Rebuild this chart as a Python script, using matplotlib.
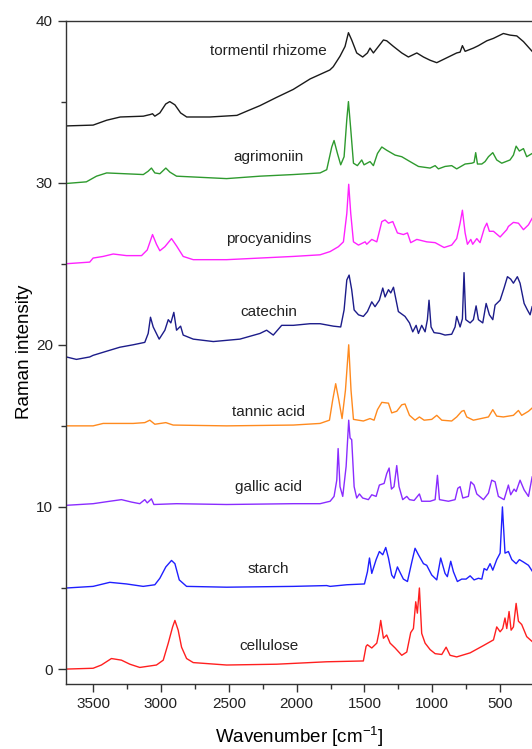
import numpy as np
import matplotlib
matplotlib.use("Agg")
import matplotlib.pyplot as plt
from matplotlib.ticker import MultipleLocator

plt.rcParams['font.family'] = ['Liberation Sans', 'DejaVu Sans']
plt.rcParams['mathtext.default'] = 'regular'

# spectra: (wavenumber cm-1, intensity incl. offset)
tormentil = [(3697, 33.5), (3500, 33.55), (3400, 33.85), (3300, 34.05), (3130, 34.1), (3080, 34.2),
             (3062, 34.25), (3045, 34.1), (3008, 34.3), (2965, 34.85), (2935, 35.0), (2897, 34.8),
             (2855, 34.3), (2810, 34.05), (2640, 34.05), (2440, 34.15), (2370, 34.4), (2270, 34.75),
             (2150, 35.25), (2025, 35.75), (1900, 36.4), (1755, 36.95), (1730, 37.15), (1680, 37.8),
             (1643, 38.4), (1618, 39.25), (1594, 38.8), (1557, 38.0), (1513, 37.75), (1478, 38.0),
             (1459, 38.3), (1434, 38.0), (1397, 38.4), (1360, 38.8), (1336, 38.75), (1286, 38.4),
             (1225, 38.0), (1176, 37.75), (1114, 38.0), (1065, 37.75), (1016, 37.55), (967, 37.4),
             (918, 37.6), (869, 37.8), (820, 38.0), (795, 38.05), (778, 38.45), (758, 38.1),
             (697, 38.3), (660, 38.45), (598, 38.75), (549, 38.9), (476, 39.2), (427, 39.1),
             (377, 39.05), (328, 38.7), (264, 38.1)]

agrimoniin = [(3697, 29.95), (3550, 30.05), (3475, 30.4), (3400, 30.6), (3130, 30.5), (3095, 30.7),
              (3070, 30.9), (3045, 30.6), (3008, 30.55), (2964, 30.9), (2934, 30.65), (2885, 30.4),
              (2760, 30.35), (2516, 30.25), (2270, 30.4), (2024, 30.5), (1827, 30.6), (1778, 30.8),
              (1741, 32.2), (1724, 32.6), (1699, 31.8), (1675, 31.1), (1650, 31.6), (1630, 33.9),
              (1618, 35.0), (1601, 33.3), (1581, 31.2), (1552, 31.05), (1520, 31.4), (1503, 31.1),
              (1459, 31.3), (1434, 31.05), (1404, 31.8), (1372, 32.2), (1336, 32.0), (1274, 31.7),
              (1225, 31.6), (1164, 31.3), (1102, 31.0), (1016, 30.9), (979, 31.05), (955, 30.85),
              (906, 31.0), (857, 31.05), (820, 30.85), (758, 31.15), (709, 31.2), (692, 31.25),
              (680, 31.85), (667, 31.15), (635, 31.15), (611, 31.3), (586, 31.6), (554, 31.85),
              (525, 31.4), (488, 31.2), (427, 31.4), (402, 31.7), (382, 32.25), (358, 31.95),
              (328, 32.1), (304, 31.6), (264, 31.8)]

procyanidins = [(3697, 25.0), (3525, 25.1), (3500, 25.35), (3426, 25.45), (3352, 25.6), (3254, 25.5),
                (3143, 25.5), (3101, 25.85), (3062, 26.8), (3033, 26.2), (3008, 25.8), (2971, 26.05),
                (2922, 26.55), (2885, 26.1), (2836, 25.45), (2762, 25.25), (2516, 25.25), (2270, 25.35),
                (2024, 25.45), (1827, 25.55), (1753, 25.75), (1692, 26.05), (1655, 26.35), (1630, 28.1),
                (1616, 29.9), (1601, 28.1), (1581, 26.35), (1544, 26.15), (1495, 26.35), (1483, 26.2),
                (1446, 26.5), (1409, 26.35), (1372, 27.6), (1348, 27.7), (1323, 27.5), (1291, 27.6),
                (1257, 26.9), (1213, 26.8), (1183, 26.9), (1159, 26.3), (1114, 26.5), (1041, 26.35),
                (979, 26.3), (913, 26.0), (857, 26.15), (820, 26.55), (795, 27.5), (778, 28.3),
                (758, 26.9), (741, 26.2), (716, 26.5), (702, 26.2), (672, 26.55), (648, 26.3),
                (616, 27.2), (598, 27.5), (579, 27.0), (549, 27.0), (500, 26.65), (451, 27.1),
                (439, 27.3), (402, 27.55), (365, 27.5), (328, 27.1), (291, 27.4), (264, 27.8)]

catechin = [(3697, 19.25), (3623, 19.1), (3525, 19.25), (3500, 19.35), (3402, 19.6), (3303, 19.85),
            (3205, 20.0), (3119, 20.15), (3094, 20.7), (3077, 21.7), (3057, 21.1), (3013, 20.35),
            (2971, 20.9), (2946, 21.55), (2927, 21.35), (2905, 22.0), (2885, 20.9), (2855, 21.15),
            (2836, 20.6), (2762, 20.35), (2614, 20.2), (2418, 20.35), (2270, 20.7), (2221, 20.9),
            (2172, 20.6), (2110, 21.2), (2024, 21.2), (1901, 21.3), (1827, 21.3), (1729, 21.15),
            (1675, 21.1), (1650, 22.15), (1630, 24.0), (1613, 24.3), (1594, 23.4), (1576, 22.15),
            (1544, 21.85), (1508, 21.75), (1478, 22.05), (1446, 22.65), (1422, 22.35), (1390, 22.75),
            (1365, 23.5), (1348, 22.95), (1323, 23.4), (1306, 23.2), (1286, 23.55), (1250, 22.05),
            (1201, 21.75), (1168, 21.35), (1144, 20.8), (1119, 21.2), (1102, 20.7), (1078, 21.2),
            (1053, 20.8), (1036, 21.55), (1024, 22.75), (1009, 21.1), (987, 20.75), (943, 20.7),
            (906, 20.6), (857, 20.65), (832, 21.1), (820, 21.75), (795, 21.1), (778, 21.6),
            (766, 24.45), (753, 21.55), (721, 21.35), (697, 21.55), (677, 22.4), (660, 21.55),
            (628, 21.35), (603, 22.55), (579, 21.85), (554, 21.55), (537, 22.45), (500, 22.75),
            (471, 23.5), (446, 24.2), (422, 24.05), (402, 23.8), (373, 24.2), (353, 23.8),
            (323, 22.55), (299, 22.15), (279, 21.85), (264, 22.35)]

tannic_acid = [(3697, 15.0), (3500, 15.0), (3426, 15.15), (3205, 15.15), (3119, 15.2), (3082, 15.35),
               (3045, 15.1), (2964, 15.2), (2910, 15.05), (2516, 15.0), (2024, 15.05), (1827, 15.15),
               (1758, 15.35), (1734, 16.6), (1712, 17.6), (1689, 16.6), (1665, 15.45), (1640, 17.2),
               (1616, 20.0), (1599, 17.2), (1581, 15.4), (1508, 15.3), (1459, 15.45), (1429, 15.35),
               (1404, 16.0), (1372, 16.45), (1323, 16.4), (1299, 15.8), (1262, 15.9), (1225, 16.3),
               (1201, 16.35), (1168, 15.65), (1127, 15.35), (1095, 15.55), (1060, 15.35), (1004, 15.4),
               (967, 15.65), (930, 15.35), (857, 15.3), (820, 15.55), (783, 15.9), (766, 15.95),
               (746, 15.55), (697, 15.35), (586, 15.55), (554, 16.0), (525, 15.6), (476, 15.55),
               (402, 15.65), (365, 15.95), (341, 15.65), (291, 15.9), (264, 16.1)]

gallic_acid = [(3697, 10.1), (3500, 10.2), (3377, 10.35), (3291, 10.45), (3217, 10.3), (3156, 10.2),
               (3119, 10.45), (3101, 10.25), (3070, 10.5), (3052, 10.15), (2885, 10.2), (2516, 10.15),
               (2024, 10.2), (1827, 10.2), (1753, 10.35), (1724, 10.65), (1704, 11.65), (1694, 13.6),
               (1680, 11.25), (1660, 10.65), (1635, 12.5), (1616, 15.35), (1606, 14.25), (1594, 14.15),
               (1576, 11.25), (1557, 10.55), (1537, 10.8), (1513, 10.55), (1471, 10.45), (1446, 10.75),
               (1414, 10.65), (1390, 11.35), (1355, 11.45), (1336, 12.05), (1318, 12.4), (1301, 11.1),
               (1282, 11.25), (1262, 12.55), (1245, 11.25), (1218, 10.45), (1188, 10.65), (1168, 10.45),
               (1134, 10.4), (1095, 10.8), (1078, 10.35), (1016, 10.35), (979, 10.45), (962, 11.95),
               (947, 10.45), (881, 10.35), (832, 10.45), (812, 11.15), (795, 11.25), (775, 10.55),
               (734, 10.65), (716, 11.55), (692, 11.35), (672, 10.8), (623, 10.45), (586, 10.85),
               (562, 11.65), (537, 11.55), (513, 10.65), (471, 10.45), (439, 11.35), (422, 10.75),
               (397, 11.1), (382, 10.95), (353, 11.65), (323, 11.05), (291, 10.65), (264, 11.85)]

starch = [(3697, 5.0), (3500, 5.1), (3377, 5.35), (3254, 5.25), (3131, 5.1), (3045, 5.2), (3008, 5.6),
          (2964, 6.3), (2922, 6.7), (2897, 6.5), (2865, 5.5), (2811, 5.1), (2516, 5.05), (2024, 5.1),
          (1778, 5.15), (1753, 5.1), (1630, 5.2), (1500, 5.25), (1478, 6.0), (1463, 6.85), (1446, 5.9),
          (1414, 6.75), (1390, 7.25), (1365, 7.05), (1343, 7.5), (1323, 6.85), (1299, 5.8), (1282, 5.6),
          (1257, 6.3), (1237, 5.95), (1213, 5.55), (1183, 5.4), (1151, 6.6), (1127, 7.45), (1102, 7.05),
          (1065, 6.5), (1041, 6.4), (1004, 5.8), (967, 5.5), (938, 6.85), (906, 5.9), (889, 5.7),
          (864, 6.65), (844, 6.0), (815, 5.4), (783, 5.55), (751, 5.55), (721, 5.75), (692, 5.5),
          (660, 5.6), (635, 5.55), (618, 6.2), (598, 6.1), (574, 6.5), (554, 6.1), (525, 6.75),
          (500, 7.15), (483, 10.0), (464, 7.15), (439, 7.25), (414, 6.75), (382, 6.5), (358, 6.75),
          (328, 6.6), (291, 6.4), (264, 6.05)]

cellulose = [(3697, 0.0), (3500, 0.05), (3439, 0.25), (3365, 0.65), (3291, 0.55), (3229, 0.3),
             (3156, 0.1), (3033, 0.25), (2983, 0.55), (2946, 1.6), (2914, 2.6), (2897, 3.0),
             (2873, 2.4), (2848, 1.35), (2811, 0.65), (2762, 0.4), (2516, 0.25), (2147, 0.3),
             (1778, 0.45), (1508, 0.5), (1488, 1.4), (1478, 1.5), (1446, 1.3), (1409, 1.6),
             (1392, 2.3), (1380, 3.0), (1360, 1.9), (1336, 2.1), (1311, 1.6), (1274, 1.3),
             (1225, 0.85), (1188, 1.05), (1159, 2.25), (1139, 2.5), (1122, 4.15), (1110, 3.45),
             (1095, 5.0), (1078, 2.2), (1053, 1.6), (1016, 1.2), (979, 0.95), (930, 0.9),
             (898, 1.35), (869, 0.85), (820, 0.75), (721, 1.0), (623, 1.45), (549, 1.8),
             (525, 2.6), (500, 2.3), (481, 2.5), (464, 3.15), (451, 2.5), (434, 3.55),
             (419, 2.4), (402, 2.6), (382, 4.05), (365, 2.95), (341, 2.75), (304, 2.0), (264, 1.7)]

names = ["tormentil rhizome", "agrimoniin", "procyanidins", "catechin",
         "tannic acid", "gallic acid", "starch", "cellulose"]
spectra = [tormentil, agrimoniin, procyanidins, catechin,
           tannic_acid, gallic_acid, starch, cellulose]
label_y = [38.1, 31.6, 26.55, 22.05, 15.85, 11.25, 6.15, 1.4]
colors = ["#1a1a1a", "#2e9a2e", "#ff22ff", "#1c1c8a",
          "#ff8a1e", "#8a2cff", "#1f1fff", "#ff1f1f"]

fig = plt.figure(figsize=(5.32, 7.49), dpi=100)
ax = fig.add_axes([0.124, 0.0868, 0.876, 0.8858])

for name, spec, ly, c in zip(names, spectra, label_y, colors):
    s = np.array(spec)
    ax.plot(s[:, 0], s[:, 1], color=c, lw=1.0)
    ax.text(2205, ly, name, ha='center', va='center', fontsize=11, color='#222222')

ax.set_xlim(3700, 265)
ax.set_ylim(-0.92, 40)
ax.xaxis.set_major_locator(MultipleLocator(500))
ax.xaxis.set_minor_locator(MultipleLocator(250))
ax.yaxis.set_major_locator(MultipleLocator(10))
ax.yaxis.set_minor_locator(MultipleLocator(5))
ax.tick_params(which='major', direction='out', length=6, width=1, labelsize=11,
               colors='#333333', labelcolor='#222222')
ax.tick_params(which='minor', direction='out', length=3.5, width=1, colors='#333333')
ax.spines['right'].set_visible(False)
for sp in ['left', 'bottom', 'top']:
    ax.spines[sp].set_color('#333333')
    ax.spines[sp].set_linewidth(1)

ax.set_xlabel('Wavenumber [cm$^{-1}$]', fontsize=13.5, labelpad=10)
ax.set_ylabel('Raman intensity', fontsize=13.5, labelpad=2)

fig.savefig('out.png', dpi=100)
